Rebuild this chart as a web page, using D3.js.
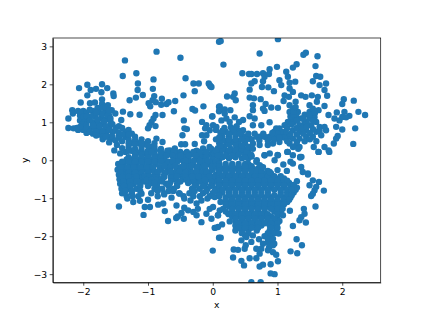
<!DOCTYPE html>
<html>
<head>
<meta charset="utf-8">
<script src="https://cdn.jsdelivr.net/npm/d3@7"></script>
<style>
  html, body { margin: 0; padding: 0; background: #fff; }
  svg { display: block; }
  text { font-family: "DejaVu Sans", sans-serif; fill: #000; }
</style>
</head>
<body>
<svg id="chart" width="423" height="317"></svg>
<script>
const xTicks = [-2, -1, 0, 1, 2];
const yTicks = [-3, -2, -1, 0, 1, 2, 3];

// values, region by region
const upperLeft = [[-1.356,2.63],[-.868,2.86],[-.499,2.7],[-1.39,2.22],[-1.18,2.29],[-1.156,2.02],[-.915,2.13],[-.42,2.16],[-.298,2.02],[-.216,2.02],[-.062,2.02],[-.036,1.95],[-.278,1.82],[-.452,1.71],[-2.065,1.9],[-1.937,1.99],[-1.71,2],[-1.63,1.9],[-1.885,1.85],[-1.803,1.88],[-1.72,1.79],[-1.937,1.71],[-1.536,1.76],[-1.53,1.69],[-1.16,1.85],[-.925,1.88],[-1.08,1.72],[-1.187,1.65],[-1.284,1.58],[-.904,1.69],[-.93,1.58],[-.99,1.5],[-.966,1.42],[-.88,1.53],[-.786,1.62],[-.796,1.46],[-.714,1.48],[-.683,1.53],[-.58,1.56],[-.6,1.29],[-.776,1.19],[-.884,1.19],[-.915,1.1],[-.945,1.01],[-.976,.92],[-1,.84],[-.884,.9],[-1.13,1.2],[-1.274,1.21],[-1.387,1.28],[-1.413,1.06],[-.447,1.05],[-.437,.84],[-.4,.82],[-.468,.66],[-.488,.42],[-.427,.42],[-.278,.43],[-.314,1.35],[-.273,1.31],[-.144,1.42],[-.165,1.01],[-.01,1.15],[-.098,.92],[-.118,.84],[.005,.92],[.056,.88],[-.165,.66],[-.098,.66],[-.047,.79],[-.134,.5],[.097,3.12],[.097,1.41],[.097,1.29]];

const leftCluster = [[-2.23,1.1],[-2.23,.85],[-2.15,.84],[-2.17,1.32],[-2.16,1.23],[-2.04,1.52],[-1.896,1.5],[-1.82,1.52],[-1.71,1.6],[-1.71,1.48],[-1.62,1.45],[-1.56,1.32],[-1.505,1.23],[-2.08,1.3],[-2.05,1.18],[-2,1.3],[-1.95,1.25],[-2.05,1.05],[-1.98,1.05],[-2.02,.95],[-1.95,.93],[-1.9,1.15],[-1.85,1.3],[-1.82,1.15],[-1.78,1.38],[-1.75,1.25],[-1.7,1.38],[-1.65,1.28],[-1.6,1.18],[-1.58,1.02],[-1.72,1.1],[-1.65,1.08],[-1.85,1],[-1.78,.98],[-1.7,.95],[-1.6,.9],[-1.9,.82],[-1.82,.85],[-1.75,.82],[-1.67,.8],[-2.08,.8],[-2,.8],[-1.95,.72],[-1.85,.7],[-1.75,.68],[-1.65,.7],[-1.55,.75],[-1.5,.85],[-1.45,.9]];

const leftFill = [[-2.05,1.25],[-2,1.15],[-1.95,1.15],[-1.9,1.05],[-1.9,1.33],[-1.85,1.18],[-1.8,1.25],[-1.78,1.08],[-1.7,1.22],[-1.68,1.02],[-1.62,1.18],[-1.58,1.1],[-1.55,.95],[-1.65,.9],[-1.75,.9],[-1.85,.92],[-1.95,.85],[-2.05,.88],[-2.1,.85],[-1.9,.75],[-1.8,.75],[-1.7,.74],[-1.6,.8],[-1.5,.78],[-1.8,.65],[-1.7,.62],[-1.6,.62],[-1.58,.55],[-1.45,.65],[-1.65,1.38],[-1.6,1.32]];

const upperBand = [[-1.4,.85],[-1.35,.75],[-1.3,.8],[-1.25,.7],[-1.2,.62],[-1.1,.55],[-1,.5],[-.9,.45],[-.87,.57],[-.776,.48],[-1.55,.62],[-1.45,.6],[-1.35,.62],[-1.45,.72],[-1.3,.55],[-1.4,.5],[-1.25,.45],[-1.15,.45],[-1.05,.42],[-.95,.35],[-1.3,.35],[-1.2,.3],[-1.1,.28],[-1,.25],[-.894,.26],[-.8,.3],[-1.35,.22],[-1.52,.26],[-1.43,.18],[-1.7,.55],[-1.6,.47],[-1.48,.4],[-.586,.31],[-.663,.26],[-.766,.16],[-.46,.16],[-.35,.16],[-.15,.31],[-.05,.35],[.056,.26]];

const upperBandFill = [[-1.65,.62],[-1.5,.52],[-1.3,.68],[-1.4,.68],[-1.2,.52],[-1.1,.45],[-1,.38],[-.9,.35],[-1.3,.45],[-1.2,.42],[-1.1,.37],[-1.25,.25],[-1.15,.2],[-1.05,.18],[-.95,.2],[-.85,.1],[-1.4,.32],[-1.3,.25],[-.7,.25],[-.55,.2],[-.25,.25],[-.1,.22],[0,.12]];

const bandRows = [[-1.2,.15],[-1.1,.15],[-1,.15],[-.9,.15],[-.68,.15],[-.3,.15],[-.15,.15],[-.05,.15],[.05,.15],
[-1.33,.02],[-1.25,.02],[-1.15,.02],[-1.05,.02],[-.95,.02],[-.85,.02],[-.75,.02],[-.6,.02],[-.5,.02],[-.38,.02],[-.25,.02],[-.12,.02],[0,.02],[.1,.02],
[-1.46,-.1],[-1.38,-.1],[-1.28,-.1],[-1.18,-.1],[-1.08,-.1],[-.98,-.1],[-.88,-.1],[-.72,-.1],[-.62,-.1],[-.42,-.1],[-.3,-.1],[-.2,-.1],[-.08,-.1],[.02,-.1],[.1,-.1],
[-1.47,-.25],[-1.37,-.25],[-1.27,-.25],[-1.17,-.25],[-1.07,-.25],[-.95,-.25],[-.8,-.25],[-.7,-.25],[-.55,-.25],[-.45,-.25],[-.35,-.25],[-.22,-.25],[-.12,-.25],[0,-.25],[.1,-.25],
[-1.45,-.38],[-1.35,-.38],[-1.25,-.38],[-1.15,-.38],[-.9,-.38],[-.85,-.38],[-.75,-.38],[-.62,-.38],[-.5,-.38],[-.38,-.38],[-.28,-.38],[-.1,-.38],[.05,-.38],
[-1.44,-.5],[-1.34,-.5],[-1.22,-.5],[-1.1,-.5],[-.8,-.5],[-.58,-.5],[-.46,-.5],[-.32,-.5],[-.22,-.5],[-.05,-.5],[.05,-.5],
[-1.43,-.62],[-1.33,-.62],[-1.22,-.62],[-1.12,-.62],[-.98,-.62],[-.86,-.62],[-.72,-.62],[-.55,-.62],[-.25,-.62],[-.12,-.62],[0,-.62],[.1,-.62],
[-1.41,-.75],[-1.3,-.75],[-1.18,-.75],[-.9,-.75],[-.78,-.75],[-.6,-.75],[-.32,-.75],[-.2,-.75],[-.08,-.75],[.05,-.75],
[-1.4,-.87],[-1.25,-.87],[-.95,-.87],[-.75,-.87],[-.52,-.87],[-.36,-.87],[-.15,-.87],[0,-.87],[.1,-.87]];

const bandFill = [[-1.3,.08],[-1.2,.08],[-1.1,.08],[-1,.08],[-.9,.08],[-.8,.08],[-.55,.08],[-.42,.08],[-.2,.08],[-.1,.08],[0,.08],[.1,.08],
[-1.4,-.04],[-1.3,-.04],[-1.2,-.04],[-1.1,-.04],[-1,-.04],[-.9,-.04],[-.8,-.04],[-.68,-.04],[-.55,-.04],[-.45,-.04],[-.35,-.04],[-.15,-.04],[-.05,-.04],[.05,-.04],
[-1.42,-.18],[-1.32,-.18],[-1.22,-.18],[-1.12,-.18],[-1.02,-.18],[-.92,-.18],[-.82,-.18],[-.65,-.18],[-.5,-.18],[-.38,-.18],[-.25,-.18],[-.15,-.18],[-.02,-.18],[.08,-.18],
[-1.42,-.32],[-1.3,-.32],[-1.2,-.32],[-1.1,-.32],[-1,-.32],[-.72,-.32],[-.6,-.32],[-.42,-.32],[-.3,-.32],[-.18,-.32],[-.05,-.32],[.1,-.32],
[-1.4,-.44],[-1.3,-.44],[-1.18,-.44],[-1.08,-.44],[-.88,-.44],[-.75,-.44],[-.65,-.44],[-.42,-.44],[-.28,-.44],[-.15,-.44],[0,-.44],[.1,-.44],
[-1.38,-.56],[-1.28,-.56],[-1.17,-.56],[-1.05,-.56],[-.92,-.56],[-.78,-.56],[-.65,-.56],[-.5,-.56],[-.3,-.56],[-.18,-.56],[-.02,-.56],[.08,-.56],
[-1.37,-.68],[-1.27,-.68],[-1.12,-.68],[-1,-.68],[-.86,-.68],[-.68,-.68],[-.55,-.68],[-.28,-.68],[-.15,-.68],[-.03,-.68],[.1,-.68],
[-1.35,-.81],[-1.25,-.81],[-1.12,-.81],[-.85,-.81],[-.68,-.81],[-.28,-.81],[-.1,-.81],[.03,-.81],
[-1.33,-.95],[-1.15,-.95],[-.85,-.95],[-.45,-.95],[-.3,-.95],[-.2,-.95],[-.05,-.95],[.1,-.95]];

// second pass over the band, it is nearly solid down to y = -0.6
const bandGaps = [[-.95,.22],[-.8,.22],[-.7,.22],[-.6,.22],[-.5,.22],[-.4,.22],[-.3,.22],[-.2,.22],[-.1,.22],[0,.22],[.1,.22],
[-.72,.12],[-.62,.12],[-.5,.12],[-.37,.12],[-.26,.12],
[-.62,-.02],[-.42,-.02],[-.3,-.02],[-.2,-.02],[-.08,-.02],
[-.75,-.15],[-.58,-.15],[-.45,-.15],[-.33,-.15],[-.12,-.15],[.05,-.15],
[-.9,-.3],[-.85,-.3],[-.65,-.3],[-.52,-.3],[-.25,-.3],[-.1,-.3],
[-1.05,-.42],[-.98,-.42],[-.55,-.42],[-.32,-.42],[-.22,-.42],[-.05,-.42],
[-1.02,-.52],[-.95,-.52],[-.88,-.52],[-.4,-.52],[-.12,-.52],
[-.95,-.6],[-.9,-.6],[-.38,-.6]];

const lowerLeft = [[-1.449,-1.22],[-1.069,-1.44],[-.74,-1.34],[-.69,-1.6],[-.565,-1.52],[-.54,-1.48],[-.447,-1.54],[0,-2.38],[.097,-2.04],[.036,-1.78],[.08,-1.76],[-.25,-1.45],[-.175,-1.63],[-.02,-1.54],[-.098,-1.41],[-.047,-1.28],[.005,-1.23],[-1.32,-1.01],[-1.228,-1.1],[-1.238,-.95],[-1.125,-1.07],[-1.05,-1.23],[-.97,-1.23],[-1,-1.04],[-1.1,-.88],[-.843,-1.17],[-.766,-1.14],[-.75,-.9],[-.637,-.985],[-.56,-1.19],[-.51,-.88],[-.61,-.81],[-.663,-.615],[-.44,-1.01],[-.344,-1.06],[-.25,-1.14],[-.44,-1.25],[-.483,-1.39],[-.38,-1.32],[-.3,-1.36],[-.23,-1.28],[-.175,-1.06],[-.083,-1.01],[.03,-.97],[.08,-1.45],[.108,-1.32],[.16,-1.28],[.082,-1.45],[.24,-1.41],[.262,-1.61]];

const upperRight = [[.123,3.14],[1.007,3.19],[.724,2.81],[.165,2.52],[1.438,2.83],[1.4,2.78],[1.618,2.74],[1.587,2.48],[1.295,2.53],[1.238,2.44],[.992,2.46],[.878,2.4],[.457,2.29],[.56,2.27],[.596,2.27],[.683,2.27],[.776,2.29],[.868,2.27],[.8,2.2],[.776,2.08],[1.135,2.33],[1.16,2.2],[1.03,2.11],[1.058,1.98],[.647,2.08],[.596,2.02],[.57,1.86],[.76,1.93],[.858,1.92],[.945,1.82],[1.187,2.04],[1.274,2.07],[1.187,1.89],[1.238,1.8],[1.598,2.22],[1.66,2.2],[1.546,2.08],[1.75,2.02],[1.65,1.98],[1.726,1.85],[1.767,1.7],[.221,1.68],[.339,1.76],[.314,1.67],[.355,1.58],[.57,1.65],[.637,1.63],[.74,1.61],[1.11,1.71],[1.176,1.67],[1.366,1.71],[1.433,1.67],[1.53,1.71],[1.623,1.67],[1.608,1.54],[1.094,1.56],[1.28,1.54],[1.495,1.45],[1.726,1.43],[1.634,1.32],[2.024,1.61],[2,1.48],[2.178,1.57],[2.25,1.275],[2.353,1.19],[1.916,1.26],[2.034,1.275],[1.788,1.19],[1.88,1.1],[1.957,1.05],[2,1.14],[2.11,1.17],[2.06,1.13],[2.2,.84],[2.17,.43],[1.906,.88],[2,.81],[1.93,.64],[1.906,.57],[1.87,.44],[1.726,.35],[1.79,.26],[1.56,.35],[1.634,.22],[.817,1.48],[.776,1.36],[.8,1.3],[.904,1.39],[1.007,1.38],[.62,1.45],[.62,1.32],[.108,1.42],[.108,1.32],[.185,1.34],[.272,1.32],[.185,1.23],[-.005,1.16],[.134,1.05],[.21,1.1],[.262,1.01],[.339,1.13],[.57,1.16],[.647,1.1],[.878,1],[.75,.92],[.62,.92],[.468,1.06],[.406,1.01],[-.046,1.98],[-.02,1.93]];

const rightCluster = [[1.187,1.45],[1.187,1.27],[1.238,1.36],[1.315,1.27],[1.29,1.14],[1.212,1.1],[1.16,1.01],[1.11,.92],[1.03,.84],[1.366,1.1],[1.418,.97],[1.34,.92],[1.495,1.27],[1.546,1.36],[1.495,1.1],[1.572,1.14],[1.598,1.01],[1.52,.92],[1.443,.79],[1.34,.75],[1.238,.79],[1.65,.88],[1.726,.88],[1.75,.79],[1.598,.75],[1.675,.66],[1.546,.62],[1.443,.62],[1.34,.57],[1.238,.57],[1.16,.62],[1.29,.4],[1.34,.35],[1.187,.44],[1.16,.22],[1.238,.13],[1.35,.09],[1.007,.13],[.93,.44],[.85,.4],[1.03,.48],[.98,.62],[.878,.62],[.8,.13],[.596,.13],[.725,.62],[.57,.57],[.647,.7],[.468,.79],[1.25,1],[1.15,.85],[1.45,1],[1.55,.82],[1.08,.7],[1.42,1.2],[1.6,.5]];

const rightFill = [[1.2,1.15],[1.25,1.2],[1.3,1.05],[1.22,.95],[1.3,.85],[1.2,.7],[1.3,.68],[1.4,.7],[1.5,.72],[1.38,.85],[1.45,.88],[1.55,1.05],[1.5,1.2],[1.58,1.25],[1.4,1.1],[1.65,.78],[1.12,.75],[1.05,.75],[.95,.75],[.98,.84],[1.1,.6],[1.15,.5],[1.42,.5],[1.5,.55],[1.3,.48],[1.25,1.28],[1.28,1.4]];

// link between the centre and the right cluster
const rightLink = [[.5,.62],[.55,.7],[.6,.55],[.68,.62],[.72,.52],[.8,.62],[.85,.52],[.9,.6],[.95,.55],[1,.7],[1.03,.6],[.78,.7],[.92,.72],[1.24,.35],[1.32,.3],[1.2,-.04],[1.37,.09],[1.47,-.35],[.68,0],[.75,-.17]];

const centerUpper = [[-.02,.3],[.08,.32],[.18,.35],[.28,.3],[.38,.35],[.48,.3],[.55,.25],[.02,.18],[.12,.2],[.22,.2],[.32,.2],[.42,.22],[.5,.15],[.15,.08],[.25,.05],[.35,.08],[.45,.05],[.55,.05],[.1,.45],[.2,.5],[.3,.48],[.4,.5],[.5,.45],[.05,.55],[.15,.62],[.25,.62],[.35,.62],[.45,.65],[.52,.55],[.2,.75],[.3,.75],[.4,.78],[.12,.72],[.28,.87],[.37,.9],[.18,.85],[.05,.8],
[.05,.25],[.15,.28],[.25,.25],[.35,.27],[.45,.28],[.52,.22],[.08,.12],[.2,.12],[.3,.12],[.4,.15],[.5,.08],[.6,.1],[.12,.38],[.25,.42],[.35,.42],[.45,.38],[.55,.35],[.62,.3],[.62,.44],[.724,.4],[.15,.52],[.25,.55],[.35,.55],[.45,.55],[.1,.6],[.25,.7],[.35,.7],[.15,.78],[.32,.82],[.42,.7]];

const centerRows = [[.1,-.1],[.2,-.1],[.3,-.1],[.4,-.1],[.5,-.1],[.55,-.1],
[.15,-.22],[.25,-.22],[.35,-.22],[.45,-.22],[.55,-.22],[.62,-.22],[.7,-.22],
[.1,-.35],[.2,-.35],[.3,-.35],[.4,-.35],[.5,-.35],[.6,-.35],[.7,-.35],[.8,-.35],[.9,-.35],
[.1,-.48],[.22,-.48],[.32,-.48],[.42,-.48],[.52,-.48],[.62,-.48],[.72,-.48],[.82,-.48],[.92,-.48],[1.02,-.48],[1.1,-.48],
[.15,-.6],[.25,-.6],[.35,-.6],[.45,-.6],[.55,-.6],[.65,-.6],[.75,-.6],[.85,-.6],[.95,-.6],[1.05,-.6],[1.18,-.6],
[.1,-.72],[.2,-.72],[.3,-.72],[.4,-.72],[.5,-.72],[.6,-.72],[.7,-.72],[.8,-.72],[.9,-.72],[1,-.72],[1.1,-.72],[1.2,-.72],[1.3,-.72],
[.15,-.85],[.25,-.85],[.35,-.85],[.45,-.85],[.55,-.85],[.65,-.85],[.75,-.85],[.85,-.85],[1.05,-.85],[1.15,-.85],[1.25,-.85],
[.2,-.98],[.3,-.98],[.4,-.98],[.5,-.98],[.6,-.98],[.7,-.98],[.8,-.98],[.9,-.98],[1,-.98],[1.1,-.98],[1.2,-.98],
[.12,-1.1],[.28,-1.1],[.38,-1.1],[.48,-1.1],[.58,-1.1],[.68,-1.1],[.78,-1.1],[.88,-1.1],[.98,-1.1],[1.08,-1.1],[1.15,-1.1],
[.25,-1.22],[.35,-1.22],[.45,-1.22],[.55,-1.22],[.65,-1.22],[.75,-1.22],[.85,-1.22],[.95,-1.22],[1.05,-1.22],
[.2,-1.35],[.3,-1.35],[.4,-1.35],[.5,-1.35],[.6,-1.35],[.7,-1.35],[.8,-1.35],[.95,-1.35],[1.05,-1.35],
[.3,-1.48],[.4,-1.48],[.5,-1.48],[.6,-1.48],[.7,-1.48],[.8,-1.48],[.9,-1.48],[1,-1.48],
[.35,-1.6],[.45,-1.6],[.55,-1.6],[.65,-1.6],[.75,-1.6],[.85,-1.6],[.95,-1.6],[1.03,-1.6],
[.35,-1.72],[.45,-1.72],[.55,-1.72],[.65,-1.72],[.75,-1.72],[.88,-1.72],[.97,-1.72],
[.35,-1.85],[.45,-1.85],[.55,-1.85],[.68,-1.85],[.88,-1.85],[.98,-1.85],
[.5,-1.98],[.62,-1.98],[.88,-1.98]];

const centerFill = [[.1,-.16],[.2,-.16],[.3,-.16],[.4,-.16],[.5,-.16],[.6,-.16],
[.1,-.28],[.2,-.28],[.3,-.28],[.4,-.28],[.5,-.28],[.6,-.28],[.68,-.28],[.75,-.28],[.85,-.28],
[.15,-.42],[.25,-.42],[.35,-.42],[.45,-.42],[.55,-.42],[.65,-.42],[.75,-.42],[.85,-.42],[.95,-.42],[1.05,-.42],
[.1,-.54],[.2,-.54],[.3,-.54],[.4,-.54],[.5,-.54],[.6,-.54],[.7,-.54],[.8,-.54],[.9,-.54],[1,-.54],[1.1,-.54],[1.15,-.54],
[.1,-.66],[.2,-.66],[.3,-.66],[.4,-.66],[.5,-.66],[.6,-.66],[.7,-.66],[.8,-.66],[.9,-.66],[1,-.66],[1.1,-.66],[1.2,-.66],[1.25,-.66],
[.15,-.78],[.25,-.78],[.35,-.78],[.45,-.78],[.55,-.78],[.65,-.78],[.75,-.78],[.85,-.78],[.95,-.78],[1.05,-.78],[1.15,-.78],[1.28,-.78],
[.1,-.92],[.25,-.92],[.35,-.92],[.45,-.92],[.55,-.92],[.65,-.92],[.75,-.92],[.85,-.92],[.95,-.92],[1.05,-.92],[1.15,-.92],[1.22,-.92],
[.2,-1.04],[.3,-1.04],[.4,-1.04],[.5,-1.04],[.6,-1.04],[.7,-1.04],[.8,-1.04],[.9,-1.04],[1,-1.04],[1.1,-1.04],[1.18,-1.04],
[.2,-1.16],[.3,-1.16],[.4,-1.16],[.5,-1.16],[.6,-1.16],[.7,-1.16],[.8,-1.16],[.9,-1.16],[1,-1.16],[1.1,-1.16],
[.3,-1.28],[.4,-1.28],[.5,-1.28],[.6,-1.28],[.7,-1.28],[.8,-1.28],[.9,-1.28],[1,-1.28],[1.08,-1.28],
[.25,-1.42],[.35,-1.42],[.45,-1.42],[.55,-1.42],[.65,-1.42],[.75,-1.42],[.85,-1.42],[1,-1.42],
[.35,-1.54],[.45,-1.54],[.55,-1.54],[.65,-1.54],[.75,-1.54],[.85,-1.54],[.95,-1.54],
[.4,-1.66],[.5,-1.66],[.6,-1.66],[.7,-1.66],[.8,-1.66],[.9,-1.66],[1,-1.66],
[.4,-1.78],[.5,-1.78],[.6,-1.78],[.7,-1.78],[.9,-1.78],[1,-1.78],
[.45,-1.92],[.55,-1.92],[.85,-1.92],[.95,-1.92],[.9,-2.12],[.95,-2.2],[.85,-2.15],[.87,-2.3]];

const lowerRight = [[.59,.14],[.8,.13],[.88,.18],[1,.14],[.955,0],[1.09,-.11],[1,-.26],[1.145,-.28],[.673,-.04],[.725,-.13],[.776,-.18],[.88,-.31],[1.634,.22],[1.8,.22],[1.35,.07],[1.15,.22],[1.238,-.088],[1.366,-.176],[1.39,-.31],[1.47,-.378],[1.546,-.53],[1.64,-.57],[1.495,-.66],[1.716,-.8],[1.598,-.7],[1.572,-.79],[1.546,-.88],[1.52,-.94],[1.587,-1.22],[1.407,-1.28],[1.418,-1.41],[1.366,-1.5],[1.34,-1.58],[1.438,-1.64],[1.238,-1.73],[1.192,-1.33],[1.084,-1.45],[1.017,-1.93],[1.295,-2.08],[1.377,-2.24],[1.202,-2.4],[1.305,-2.45],[1.007,-2.66],[.894,-2.74],[.894,-2.98],[.955,-3],[.724,-2.8],[.776,-2.75],[.57,-2.58],[.442,-2.65],[.483,-2.77],[.314,-2.56],[.324,-2.35],[.39,-2.36],[.493,-2.33],[.509,-2.24],[.123,-2.04],[.596,-3.21],[.74,-3.21],[.673,-2.58],[.724,-2.46],[.673,-2.33],[.596,-2.15],[.714,-2.08],[.8,-2],[.776,-2.2],[.75,-2.33],[.853,-2.37],[.93,-2.42],[.98,-2.49],[.878,-2.24],[.93,-2.24],[.853,-2.07],[.93,-2.07],[.442,-2.11],[.519,-2.02],[.03,-1.78],[.144,-1.69],[1.3,-.55],[1.25,-.65],[1.22,-.78]];

const allPoints = [].concat(upperLeft, leftCluster, leftFill, upperBand, upperBandFill, bandRows, bandFill, bandGaps, lowerLeft, upperRight, rightCluster, rightFill, rightLink, centerUpper, centerRows, centerFill, lowerRight);

const width = 423, height = 317;
const margin = { left: 52.9, right: 42.3, top: 38, bottom: 34.5 };

const xScale = d3.scaleLinear().domain([-2.469, 2.594]).range([margin.left, width - margin.right]);
const yScale = d3.scaleLinear().domain([-3.22, 3.22]).range([height - margin.bottom, margin.top]);

const svg = d3.select("#chart");

svg.append("clipPath").attr("id", "plot-clip")
  .append("rect")
    .attr("x", margin.left).attr("y", margin.top)
    .attr("width", width - margin.left - margin.right)
    .attr("height", height - margin.top - margin.bottom);

svg.append("g").attr("clip-path", "url(#plot-clip)")
  .selectAll("circle")
  .data(allPoints)
  .enter()
  .append("circle")
    .attr("cx", d => xScale(d[0]))
    .attr("cy", d => yScale(d[1]))
    .attr("r", 3.2)
    .attr("fill", "#1f77b4");

const xAxis = svg.append("g")
  .attr("transform", `translate(0,${height - margin.bottom})`)
  .call(d3.axisBottom(xScale).tickValues(xTicks).tickFormat(d3.format("d")).tickSize(3.2).tickSizeOuter(0).tickPadding(2.5));
const yAxis = svg.append("g")
  .attr("transform", `translate(${margin.left},0)`)
  .call(d3.axisLeft(yScale).tickValues(yTicks).tickFormat(d3.format("d")).tickSize(3.2).tickSizeOuter(0).tickPadding(2.5));

[xAxis, yAxis].forEach(axis => {
  axis.selectAll("text").style("font-family", '"DejaVu Sans", sans-serif').style("font-size", "9.2px");
  axis.selectAll("line, path").attr("stroke", "#000").attr("stroke-width", 0.7);
});

// top and right spines
svg.append("rect")
  .attr("x", margin.left).attr("y", margin.top)
  .attr("width", width - margin.left - margin.right)
  .attr("height", height - margin.top - margin.bottom)
  .attr("fill", "none").attr("stroke", "#000").attr("stroke-width", 0.7);

svg.append("text")
  .attr("x", (margin.left + width - margin.right) / 2).attr("y", 307.5)
  .attr("text-anchor", "middle").style("font-size", "9.2px").text("x");

svg.append("text")
  .attr("transform", `translate(27.5,${(margin.top + height - margin.bottom) / 2}) rotate(-90)`)
  .attr("text-anchor", "middle").style("font-size", "9.2px").text("y");
</script>
</body>
</html>
